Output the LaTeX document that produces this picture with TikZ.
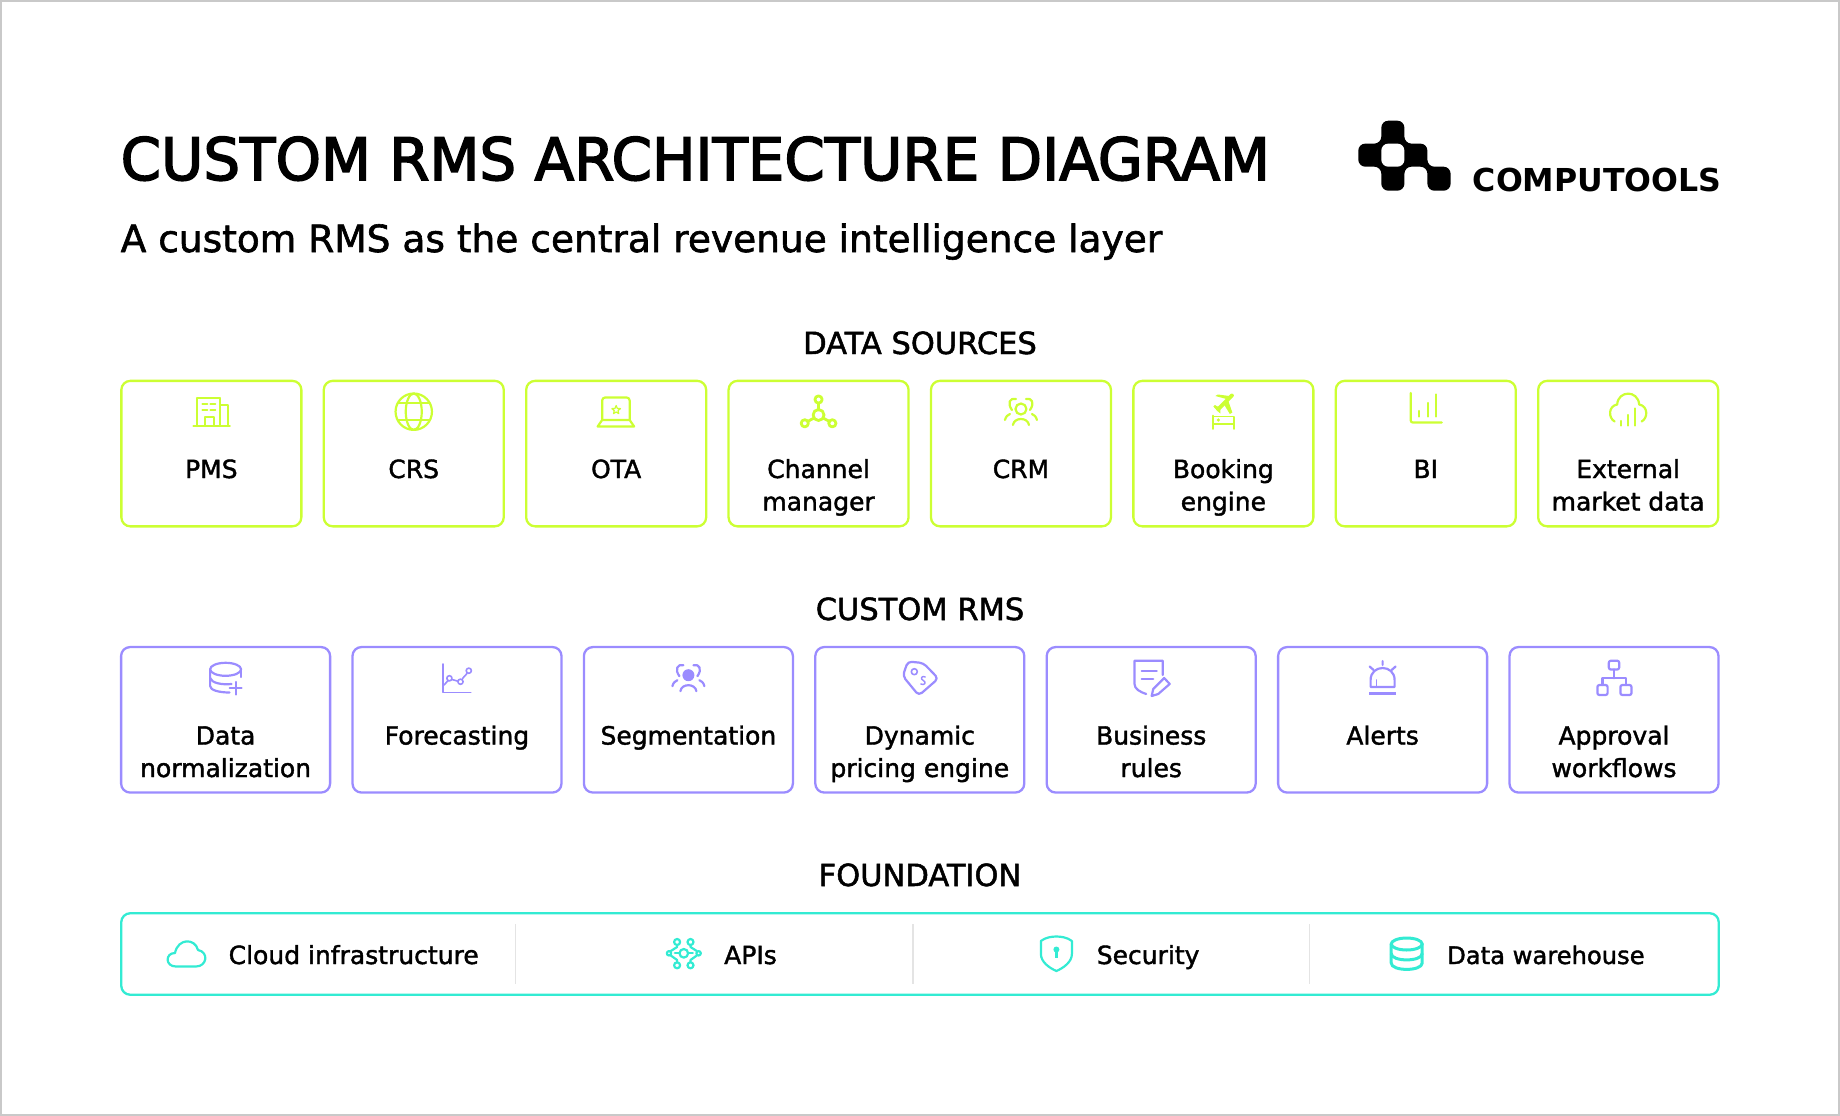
\documentclass[tikz,border=0pt]{standalone}
\usepackage{fontspec}
\setmainfont{DejaVu Sans}[FakeBold=1.6]
\newfontfamily\titlefont{DejaVu Sans}[FakeBold=2.6, FakeStretch=0.989]
\newfontfamily\logofont{DejaVu Sans Bold}
\usepackage{tikz}
\definecolor{limeline}{HTML}{CCFF33}
\definecolor{violetline}{HTML}{9B8CFF}
\definecolor{tealline}{HTML}{33EBD3}
\definecolor{sepline}{HTML}{E4E4E4}
\definecolor{frameline}{HTML}{C9C9C9}
\tikzset{
	srcbox/.style={draw=limeline, line width=2.3pt, rounded corners=9pt, minimum width=180pt, minimum height=145.5pt, inner sep=0pt},
	rmsbox/.style={draw=violetline, line width=2.3pt, rounded corners=9pt, minimum width=209pt, minimum height=145.5pt, inner sep=0pt},
	fndbox/.style={draw=tealline, line width=2.3pt, rounded corners=9pt, minimum width=1597.5pt, minimum height=81.5pt, inner sep=0pt},
	heading/.style={font=\fontsize{30.5}{36}\selectfont, anchor=base},
	boxlabel/.style={font=\fontsize{25}{32.5}\selectfont, align=center, anchor=base, inner sep=0pt},
	fndlabel/.style={font=\fontsize{25}{30}\selectfont, anchor=base west, inner sep=0pt},
	limeicon/.style={draw=limeline, line width=2.2pt, line cap=round, line join=round},
	violeticon/.style={draw=violetline, line width=2.2pt, line cap=round, line join=round},
	tealicon/.style={draw=tealline, line width=2.2pt, line cap=round, line join=round},
}
\newcommand{\peopleicon}[1]{
	\draw[#1] (-5,399) .. controls (-11,397.5) and (-14,403) .. (-9,410);
	\draw[#1] (5,399) .. controls (11,397.5) and (14,403) .. (9,410);
	\draw[#1] (-8,425) .. controls (-7,417) and (7,417) .. (8,425);
	\draw[#1] (-16,420) .. controls (-15,416) and (-13,415) .. (-11,414);
	\draw[#1] (16,420) .. controls (15,416) and (13,415) .. (11,414);
}
\begin{document}
\begin{tikzpicture}[x=1pt,y=-1pt]
	\useasboundingbox (0,0) rectangle (1840,1116);
	\node[draw=frameline, line width=2pt, minimum width=1838pt, minimum height=1114pt, inner sep=0pt] (page) at (920,558) {};

	\node[font=\titlefont\fontsize{58.5}{70}\selectfont, anchor=base west, inner sep=0pt] (title) at (120.5,180) {CUSTOM RMS ARCHITECTURE DIAGRAM};
	\node[font=\fontsize{37.5}{46}\selectfont, anchor=base west, inner sep=0pt] (subtitle) at (120.5,252) {A custom RMS as the central revenue intelligence layer};

	% logo
	\fill[black, rounded corners=7pt] (1381.3,120.7) -- (1404.4,120.7) -- (1404.4,143.6) -- (1427.4,143.6) -- (1427.4,166.7) -- (1450.6,166.7) -- (1450.6,190.7) -- (1427.4,190.7) -- (1427.4,166.7) -- (1404.4,166.7) -- (1404.4,190.7) -- (1381.3,190.7) -- (1381.3,166.7) -- (1358.3,166.7) -- (1358.3,143.6) -- (1381.3,143.6) -- cycle;
	\fill[white, rounded corners=7pt] (1381.3,143.6) rectangle (1404.4,166.7);
	\node[font=\logofont\fontsize{31.6}{38}\selectfont, anchor=base west, inner sep=0pt] (logotext) at (1472.7,191) {COMPUTOOLS};

	% data sources
	\node[heading] (h1) at (920,354) {DATA SOURCES};
	\node[srcbox] (pms) at (211.35,453.6) {};
	\node[srcbox] (crs) at (413.75,453.6) {};
	\node[srcbox] (ota) at (616.15,453.6) {};
	\node[srcbox] (chn) at (818.55,453.6) {};
	\node[srcbox] (crm) at (1020.95,453.6) {};
	\node[srcbox] (bkg) at (1223.35,453.6) {};
	\node[srcbox] (bi) at (1425.75,453.6) {};
	\node[srcbox] (ext) at (1628.15,453.6) {};
	\node[boxlabel] (lpms) at (211.35,478) {PMS};
	\node[boxlabel] (lcrs) at (413.75,478) {CRS};
	\node[boxlabel] (lota) at (616.15,478) {OTA};
	\node[boxlabel] (lchn) at (818.55,510.5) {Channel\\manager};
	\node[boxlabel] (lcrm) at (1020.95,478) {CRM};
	\node[boxlabel] (lbkg) at (1223.35,510.5) {Booking\\engine};
	\node[boxlabel] (lbi) at (1425.75,478) {BI};
	\node[boxlabel] (lext) at (1628.15,510.5) {External\\market data};

	% pms icon
	\begin{scope}[shift={(211.35,0)}]
		\draw[limeicon] (-14.5,398) -- (8.5,398) (-14.5,398) -- (-14.5,426) (8.5,398) -- (8.5,426);
		\draw[limeicon] (8.5,405) -- (16.5,405) -- (16.5,426) (-18,426) -- (18.5,426);
		\draw[limeicon] (-9,404) -- (-4,404) (-1,404) -- (4,404) (-9,410) -- (-4,410) (-1,410) -- (4,410);
		\draw[limeicon] (-6.5,426) -- (-6.5,417) -- (2.5,417) -- (2.5,426);
	\end{scope}
	% crs icon
	\begin{scope}[shift={(413.75,0)}]
		\draw[limeicon] (0,411.7) circle (18.2);
		\draw[limeicon] (0,411.7) ellipse (8 and 18.2);
		\draw[limeicon] (-16,403) -- (16,403) (-16,420) -- (16,420);
	\end{scope}
	% ota icon
	\begin{scope}[shift={(616.15,0)}]
		\draw[limeicon, rounded corners=3pt] (-14,420) -- (-14,397.5) -- (13.5,397.5) -- (13.5,420);
		\draw[limeicon] (-14,420) -- (13.5,420) -- (18,426.5) -- (-18.5,426.5) -- cycle;
		\draw[limeicon, line width=1.2pt] (0,405.5) -- (1.2,408.4) -- (4.3,408.6) -- (1.9,410.6) -- (2.6,413.6) -- (0,412) -- (-2.6,413.6) -- (-1.9,410.6) -- (-4.3,408.6) -- (-1.2,408.4) -- cycle;
	\end{scope}
	% channel manager icon
	\begin{scope}[shift={(818.55,0)}]
		\draw[limeicon, line width=2.8pt] (0,403.5) -- (0,410) (-4.5,418) -- (-11,421.5) (4.5,418) -- (11,421.5);
		\draw[limeicon, line width=2.8pt] (0,415) circle (5.5);
		\draw[limeicon, line width=2.8pt] (0,399.5) circle (3.6);
		\draw[limeicon, line width=2.8pt] (-13.8,423.3) circle (3.6);
		\draw[limeicon, line width=2.8pt] (13.8,423.3) circle (3.6);
	\end{scope}
	% crm icon
	\begin{scope}[shift={(1020.95,0)}]
		\draw[limeicon] (0,409) circle (5.5);
		\peopleicon{limeicon}
	\end{scope}
	% booking icon
	\begin{scope}[shift={(1223.35,0)}]
		\draw[limeicon, line width=4pt] (8.5,395.5) -- (-5,409);
		\fill[limeline] (3,399) -- (-8,396) -- (-5.5,394.5) -- (6,396) -- cycle;
		\fill[limeline] (5,401) -- (9,412.5) -- (6.5,414) -- (1,405) -- cycle;
		\fill[limeline] (-3,408) -- (-8.5,405) -- (-10,406.5) -- (-6,411) -- (-3,413.5) -- cycle;
		\draw[limeicon, line width=1.6pt] (-10.5,415.5) -- (-10.5,429) (10.5,417) -- (10.5,429) (-10.5,416.5) -- (10.5,416.5) (-10.5,424) -- (10.5,424);
		\fill[limeline] (-5,420) circle (1.8);
	\end{scope}
	% bi icon
	\begin{scope}[shift={(1425.75,0)}]
		\draw[limeicon, rounded corners=2pt] (-15,393) -- (-15,422.5) -- (16,422.5);
		\draw[limeicon] (-6.5,411) -- (-6.5,416.5) (2,403) -- (2,416.5) (10.5,394.5) -- (10.5,416.5);
	\end{scope}
	% external data icon
	\begin{scope}[shift={(1628.15,0)}]
		\draw[limeicon] (-13.5,421.5) .. controls (-20,418) and (-20,406) .. (-11,404.5) .. controls (-10,390) and (10,390) .. (11,404.5) .. controls (20,406) and (20,418) .. (13.5,421.5);
		\draw[limeicon] (-7,421) -- (-7,425.5) (0,415) -- (0,425.5) (7,408.5) -- (7,425.5);
	\end{scope}

	% custom rms
	\node[heading] (h2) at (920,620) {CUSTOM RMS};
	\node[rmsbox] (norm) at (225.6,719.8) {};
	\node[rmsbox] (fcst) at (457,719.8) {};
	\node[rmsbox] (segm) at (688.4,719.8) {};
	\node[rmsbox] (dyn) at (919.8,719.8) {};
	\node[rmsbox] (rules) at (1151.2,719.8) {};
	\node[rmsbox] (alrt) at (1382.6,719.8) {};
	\node[rmsbox] (appr) at (1614,719.8) {};
	\node[boxlabel] (lnorm) at (225.6,777) {Data\\normalization};
	\node[boxlabel] (lfcst) at (457,744.5) {Forecasting};
	\node[boxlabel] (lsegm) at (688.4,744.5) {Segmentation};
	\node[boxlabel] (ldyn) at (919.8,777) {Dynamic\\pricing engine};
	\node[boxlabel] (lrules) at (1151.2,777) {Business\\rules};
	\node[boxlabel] (lalrt) at (1382.6,744.5) {Alerts};
	\node[boxlabel] (lappr) at (1614,777) {Approval\\workflows};

	% normalization icon
	\begin{scope}[shift={(225.6,0)}]
		\draw[violeticon] (0,669.3) ellipse (15.5 and 6.5);
		\draw[violeticon] (-15.5,669.3) -- (-15.5,686) .. controls (-15.5,690) and (-7,692.5) .. (4,692.5);
		\draw[violeticon] (-15.5,678) .. controls (-14,683) and (-4,685) .. (6,684);
		\draw[violeticon] (15.5,669.3) -- (15.5,677);
		\draw[violeticon] (10,682) -- (10,694.5) (4,688.3) -- (16,688.3);
	\end{scope}
	% forecasting icon
	\begin{scope}[shift={(457,0)}]
		\draw[violeticon, line width=1.6pt] (-14.3,664) -- (-14.3,692.3) -- (13.8,692.3);
		\draw[violeticon, line width=1.6pt] (-13,685) -- (-8.8,680.5) (-5,679.5) -- (1,681.2) (5.5,678.5) -- (10,673.5);
		\draw[violeticon, line width=1.6pt] (-7.6,678.3) circle (2.6) (3.5,681.7) circle (2.6) (11.8,670.7) circle (2.6);
	\end{scope}
	% segmentation icon
	\begin{scope}[shift={(688.4,266.2)}]
		\fill[violetline] (0,409) circle (6);
		\peopleicon{violeticon}
	\end{scope}
	% pricing icon
	\begin{scope}[shift={(919.8,0)}]
		\draw[violeticon, rounded corners=4pt] (-12,661.5) -- (3.5,663) -- (18.5,678.5) -- (-1,695.5) -- (-17,676) -- cycle;
		\draw[violeticon, line width=1.6pt] (-5.5,671.7) circle (3);
		\draw[violeticon, line width=1.4pt] (5.5,677) .. controls (2,675) and (0,679) .. (3.5,680.5) .. controls (7,682) and (5,686) .. (1,684);
	\end{scope}
	% rules icon
	\begin{scope}[shift={(1151.2,0)}]
		\draw[violeticon] (11.5,675) -- (11.5,660.7) -- (-16.7,660.7) -- (-16.7,684) .. controls (-16.7,689) and (-11,692) .. (-5,694);
		\draw[violeticon] (-9.5,670.7) -- (5.5,670.7) (-9.5,679) -- (2,679);
		\draw[violeticon] (13,678) -- (18.5,684) -- (7,694) -- (0.5,696) -- (2,689) -- cycle;
	\end{scope}
	% alerts icon
	\begin{scope}[shift={(1382.6,0)}]
		\draw[violeticon] (-12,687) -- (-12,680) .. controls (-12,664) and (12,664) .. (12,680) -- (12,687) -- cycle;
		\draw[violeticon, line width=1.6pt] (-6,680) -- (-6,687);
		\draw[violeticon, line width=3pt, line cap=butt] (-13.5,693.3) -- (13.5,693.3);
		\draw[violeticon] (0,661) -- (0,665) (-13,666.5) -- (-9,670) (13,666.5) -- (9,670);
	\end{scope}
	% approval icon
	\begin{scope}[shift={(1614,0)}]
		\draw[violeticon, rounded corners=2pt] (-5.2,660.7) rectangle (5.2,669.5);
		\draw[violeticon, rounded corners=2pt] (-16.6,685) rectangle (-6.4,695);
		\draw[violeticon, rounded corners=2pt] (6.4,685) rectangle (17.5,695);
		\draw[violeticon] (0,669.5) -- (0,678.3) (-11.5,685) -- (-11.5,678.3) -- (12,678.3) -- (12,685);
	\end{scope}

	% foundation
	\node[heading] (h3) at (920,886) {FOUNDATION};
	\node[fndbox] (fnd) at (920,954) {};
	\coordinate (s1a) at (515.6,924); \coordinate (s1b) at (515.6,984);
	\coordinate (s2a) at (913,924); \coordinate (s2b) at (913,984);
	\coordinate (s3a) at (1309.7,924); \coordinate (s3b) at (1309.7,984);
	\draw[sepline, line width=1.5pt] (s1a) -- (s1b);
	\draw[sepline, line width=1.5pt] (s2a) -- (s2b);
	\draw[sepline, line width=1.5pt] (s3a) -- (s3b);
	\node[fndlabel] (lcloud) at (228.5,964) {Cloud infrastructure};
	\node[fndlabel] (lapi) at (724,964) {APIs};
	\node[fndlabel] (lsec) at (1096.6,964) {Security};
	\node[fndlabel, font=\fontsize{24.2}{30}\selectfont] (ldw) at (1447,964) {Data warehouse};

	% cloud icon
	\draw[tealicon] (176,966.5) -- (196,966.5) .. controls (207,966.5) and (209,952) .. (198,950) .. controls (195,938) and (178,938) .. (175,953) .. controls (165,953) and (165,966.5) .. (176,966.5) -- cycle;
	% api icon
	\begin{scope}[shift={(683.8,0)}]
		\draw[tealicon] (0,953.3) circle (4.3);
		\draw[tealicon] (-4.3,953.3) -- (-9,953.3) (4.3,953.3) -- (9,953.3);
		\draw[tealicon] (-6.7,945) -- (-6.7,947) -- (-13,951) (6.7,945) -- (6.7,947) -- (13,951);
		\draw[tealicon] (-6.7,962) -- (-6.7,960) -- (-13,955.5) (6.7,962) -- (6.7,960) -- (13,955.5);
		\draw[tealicon] (-6.7,942) circle (3) (6.7,942) circle (3) (-6.7,965.3) circle (3) (6.7,965.3) circle (3);
		\draw[tealicon] (-14.8,953.3) circle (2.2) (14.8,953.3) circle (2.2);
	\end{scope}
	% security icon
	\begin{scope}[shift={(1056.4,0)}]
		\draw[tealicon] (0,936.5) .. controls (5,936.5) and (11,937.5) .. (15.5,941) -- (15.5,954) .. controls (15.5,962) and (7,968) .. (0,971) .. controls (-7,968) and (-15.5,962) .. (-15.5,954) -- (-15.5,941) .. controls (-11,937.5) and (-5,936.5) .. (0,936.5) -- cycle;
		\fill[tealline] (0,949.5) circle (3);
		\fill[tealline] (-1.6,950) rectangle (1.6,958);
	\end{scope}
	% warehouse icon
	\begin{scope}[shift={(1406.7,0)}]
		\draw[tealicon, line width=3pt] (0,944) ellipse (15.5 and 6);
		\draw[tealicon, line width=3pt] (-15.5,944) -- (-15.5,963) .. controls (-15.5,971.5) and (15.5,971.5) .. (15.5,963) -- (15.5,944);
		\draw[tealicon, line width=3pt] (-15.5,953.5) .. controls (-15.5,962) and (15.5,962) .. (15.5,953.5);
	\end{scope}
\end{tikzpicture}
\end{document}
